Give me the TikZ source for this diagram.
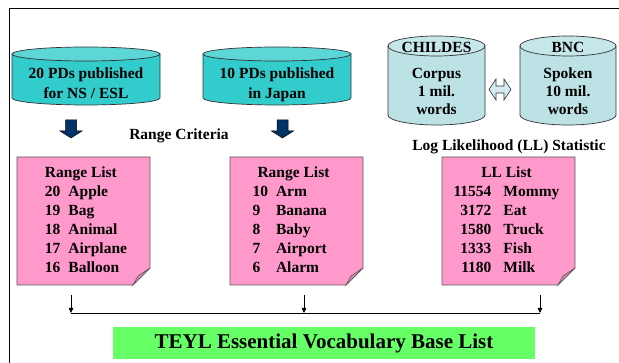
\documentclass[tikz,border=0pt]{standalone}
\usepackage{fontspec}
\setmainfont{Liberation Serif}
\usetikzlibrary{arrows.meta}
\definecolor{tealbody}{HTML}{33CCCC}
\definecolor{tealtop}{HTML}{5CD6D6}
\definecolor{cyanbody}{HTML}{BCE2E6}
\definecolor{cyantop}{HTML}{C6E7EA}
\definecolor{notepink}{HTML}{FF99CC}
\definecolor{notefold}{HTML}{D98CB3}
\definecolor{navyblue}{HTML}{003366}
\definecolor{basegreen}{HTML}{66FF66}
\definecolor{dblfill}{HTML}{D4ECEF}
\newcommand\bigbf{\fontsize{15.5}{19}\selectfont\bfseries}
\newcommand\mycyl[7]{%
  \pgfmathsetmacro\cylrx{(#2-#1)/2}%
  \pgfmathsetmacro\cylcx{(#2+#1)/2}%
  \path[cylline, fill=#6] (#1,#3) -- (#1,#4) arc[start angle=180, end angle=360, x radius=\cylrx, y radius=#5] -- (#2,#3) -- cycle;
  \path[cylline, fill=#7] (\cylcx,#3) ellipse[x radius=\cylrx, y radius=#5];
}
\newcommand\mynote[2]{%
  \pgfmathsetmacro\nfa{#2-17}%
  \pgfmathsetmacro\nfb{#2-12}%
  \path[notebox] (#1,-157) -- (#2,-157) -- (#2,-268) -- (\nfa,-285) -- (#1,-285) -- cycle;
  \path[foldbox] (#2,-268) -- (\nfb,-276) -- (\nfa,-285) -- cycle;
}
\newcommand\navyarrow[1]{%
  \pgfmathsetmacro\naa{#1-5.5}\pgfmathsetmacro\nab{#1+5.5}%
  \pgfmathsetmacro\nac{#1-11}\pgfmathsetmacro\nad{#1+11}%
  \path[blockarrow] (\naa,-120) -- (\nab,-120) -- (\nab,-131) -- (\nad,-131) -- (#1,-138) -- (\nac,-131) -- (\naa,-131) -- cycle;
}
\begin{document}
\begin{tikzpicture}[x=1pt,y=1pt,
  lbl/.style={font=\bigbf, inner sep=0pt},
  cylline/.style={draw=black!80, line width=0.7pt},
  notebox/.style={fill=notepink, draw=black!65, line width=0.8pt},
  foldbox/.style={fill=notefold, draw=black!65, line width=0.6pt},
  blockarrow/.style={fill=navyblue, draw=black, line width=0.5pt},
  link/.style={draw=black, line width=0.8pt},
  linkarrow/.style={link, -{Triangle[length=5pt,width=4.5pt]}}
]
\useasboundingbox (0,0) rectangle (619,-363);
\draw[line width=1pt] (9,-363) -- (9,-9) -- (619,-9);

% cylinders
\mycyl{12}{160}{-54}{-98}{7}{tealbody}{tealtop}
\mycyl{203}{351}{-54}{-98}{7}{tealbody}{tealtop}
\mycyl{388}{485}{-46}{-115}{10}{cyanbody}{cyantop}
\mycyl{520}{616}{-46}{-115}{10}{cyanbody}{cyantop}

\node[lbl, font=\fontsize{15.5}{20}\selectfont\bfseries] (pd20) at (86,-84.5)
  {\begin{tabular}{@{}c@{}}20 PDs published\\for NS / ESL\end{tabular}};
\node[lbl, font=\fontsize{15.5}{20}\selectfont\bfseries] (pd10) at (277,-84.5)
  {\begin{tabular}{@{}c@{}}10 PDs published\\in Japan\end{tabular}};
\node[lbl, anchor=base] (childes) at (436.5,-52.5) {CHILDES};
\node[lbl, font=\fontsize{15.5}{18}\selectfont\bfseries] (corpus) at (436.5,-92.9)
  {\begin{tabular}{@{}c@{}}Corpus\\1 mil.\\words\end{tabular}};
\node[lbl, anchor=base] (bnc) at (568,-52.5) {BNC};
\node[lbl, font=\fontsize{15.5}{18}\selectfont\bfseries] (spoken) at (568,-92.9)
  {\begin{tabular}{@{}c@{}}Spoken\\10 mil.\\words\end{tabular}};

% double arrow
\path[fill=dblfill, draw=black!80, line width=0.6pt]
  (489,-89.5) -- (496,-79) -- (496,-86) -- (504,-86) -- (504,-79) -- (511,-89.5)
  -- (504,-100) -- (504,-93) -- (496,-93) -- (496,-100) -- cycle;

% navy arrows
\navyarrow{71}
\navyarrow{282.5}

\node[lbl, anchor=base] (range) at (179,-139.5) {Range Criteria};
\node[lbl, anchor=base] (llstat) at (509,-150.5) {Log Likelihood (LL) Statistic};

% notes
\mynote{17}{150}
\mynote{230}{363}
\mynote{442}{575}

\node[lbl] (list1) at (86,-221.2) {\begin{tabular}{@{}l@{\hspace{8pt}}l@{}}\multicolumn{2}{@{}l@{}}{Range List}\\20&Apple\\19&Bag\\18&Animal\\17&Airplane\\16&Balloon\end{tabular}};
\node[lbl] (list2) at (291,-221.2) {\begin{tabular}{@{}l@{\hspace{8pt}}l@{}}\multicolumn{2}{@{}l@{}}{\hspace{5pt}Range List}\\10&Arm\\9&Banana\\8&Baby\\7&Airport\\6&Alarm\end{tabular}};
\node[lbl] (list3) at (506.5,-221.2) {\begin{tabular}{@{}r@{\hspace{12pt}}l@{}}\multicolumn{2}{@{}c@{}}{LL List}\\11554&Mommy\\3172&Eat\\1580&Truck\\1333&Fish\\1180&Milk\end{tabular}};

% connectors
\coordinate (d1) at (71,-295);
\coordinate (d2) at (304,-295);
\coordinate (d3) at (540,-295);
\coordinate (j1) at (71,-313);
\coordinate (j2) at (304,-313);
\coordinate (j3) at (540,-313);
\draw[link] (j1) -- (j3);
\draw[linkarrow] (d1) -- (j1);
\draw[linkarrow] (d2) -- (j2);
\draw[linkarrow] (d3) -- (j3);

\node[fill=basegreen, minimum width=422pt, minimum height=32pt, inner sep=0pt,
  font=\fontsize{21}{25}\selectfont\bfseries] (base) at (324,-343) {TEYL Essential Vocabulary Base List};
\end{tikzpicture}
\end{document}
